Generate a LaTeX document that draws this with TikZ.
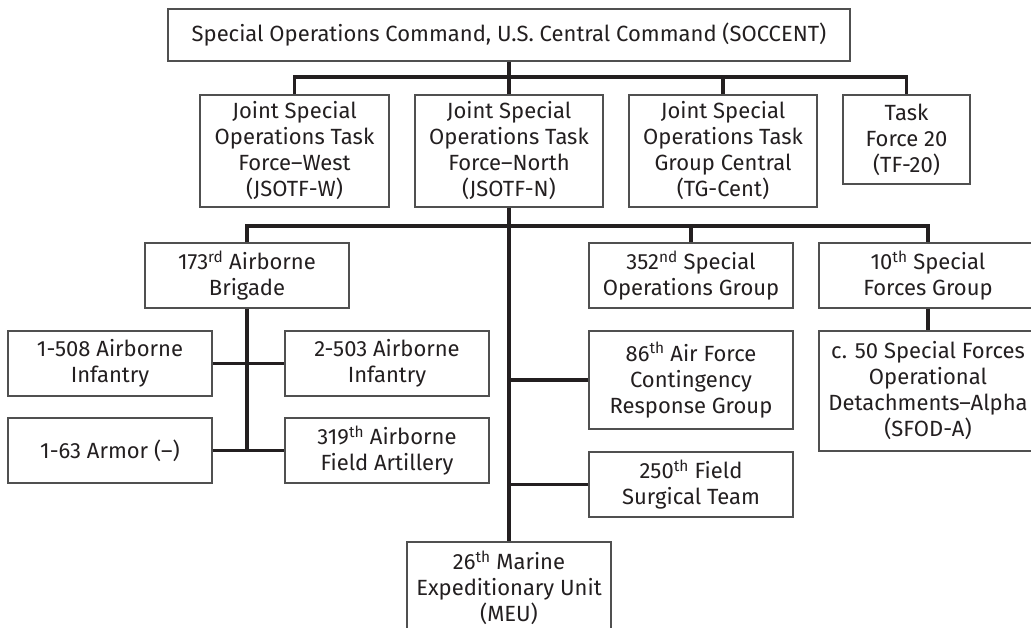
\documentclass[tikz,border=0pt]{standalone}
\usepackage{fontspec}
\setmainfont{Fira Sans}
\usetikzlibrary{positioning}
\definecolor{inkcolor}{RGB}{35,31,32}
\definecolor{framecolor}{RGB}{80,80,80}

\begin{document}
\begin{tikzpicture}[x=1pt, y=-1pt,
every node/.style={
    rectangle,
    draw=framecolor,
    line width=1.1pt,
    fill=white,
    text=inkcolor,
    inner sep=0pt,
    align=center,
    font=\fontsize{22}{26}\selectfont
},
link/.style={draw=inkcolor, line width=3.6pt, line join=miter}]

  \useasboundingbox (0,0) rectangle (1031,627);

  % top level
  \node (soc) [minimum width=682pt, minimum height=52pt] at (509,35) {Special Operations Command, U.S. Central Command (SOCCENT)};

  % task forces
  \node (jw) [minimum width=189pt, minimum height=112pt] at (294.5,151) {Joint Special\\Operations Task\\Force--West\\(JSOTF-W)};
  \node (jn) [minimum width=188pt, minimum height=112pt] at (509,151) {Joint Special\\Operations Task\\Force--North\\(JSOTF-N)};
  \node (tg) [minimum width=188pt, minimum height=112pt] at (723,151) {Joint Special\\Operations Task\\Group Central\\(TG-Cent)};
  \node (tf) [minimum width=127pt, minimum height=89pt] at (906.5,139.5) {Task\\Force 20\\(TF-20)};

  % under JSOTF-N
  \node (ab) [minimum width=204pt, minimum height=65pt] at (247,275.5) {173\textsuperscript{rd} Airborne\\Brigade};
  \node (sog) [minimum width=204pt, minimum height=65pt] at (691,275.5) {352\textsuperscript{nd} Special\\Operations Group};
  \node (sfg) [minimum width=218pt, minimum height=65pt] at (928,275.5) {10\textsuperscript{th} Special\\Forces Group};
  \node (crg) [minimum width=204pt, minimum height=98pt] at (691,380) {86\textsuperscript{th} Air Force\\Contingency\\Response Group};
  \node (fst) [minimum width=204pt, minimum height=65pt] at (691,484.5) {250\textsuperscript{th} Field\\Surgical Team};
  \node (meu) [minimum width=204pt, minimum height=92pt] at (509,588) {26\textsuperscript{th} Marine\\Expeditionary Unit\\(MEU)};
  \node (sfod) [minimum width=218pt, minimum height=120pt] at (928,391) {c. 50 Special Forces\\Operational\\Detachments--Alpha\\(SFOD-A)};

  % under the brigade
  \node (i508) [minimum width=204pt, minimum height=65pt] at (110,363.5) {1-508 Airborne\\Infantry};
  \node (i503) [minimum width=204pt, minimum height=65pt] at (387,363.5) {2-503 Airborne\\Infantry};
  \node (ar) [minimum width=204pt, minimum height=65pt] at (110,450.5) {1-63 Armor (--)};
  \node (fa) [minimum width=204pt, minimum height=65pt] at (387,450.5) {319\textsuperscript{th} Airborne\\Field Artillery};

  \coordinate (b1) at (509,77);
  \coordinate (b2) at (509,226);
  \coordinate (b3) at (ab.south |- ar.east);

  \draw[link] (soc.south) -- (b1);
  \draw[link] (jw.north) |- (b1) -| (tf.north);
  \draw[link] (jn.north) -- (b1);
  \draw[link] (tg.north) -- (tg.north |- b1);

  \draw[link] (jn.south) -- (meu.north);
  \draw[link] (ab.north) |- (b2) -| (sfg.north);
  \draw[link] (sog.north) -- (sog.north |- b2);
  \draw[link] (crg.west) -- (crg.west -| jn.south);
  \draw[link] (fst.west) -- (fst.west -| jn.south);
  \draw[link] (sfg.south) -- (sfod.north);

  \draw[link] (ab.south) -- (b3);
  \draw[link] (i508.east) -- (i503.west);
  \draw[link] (ar.east) -- (fa.west);

\end{tikzpicture}
\end{document}
